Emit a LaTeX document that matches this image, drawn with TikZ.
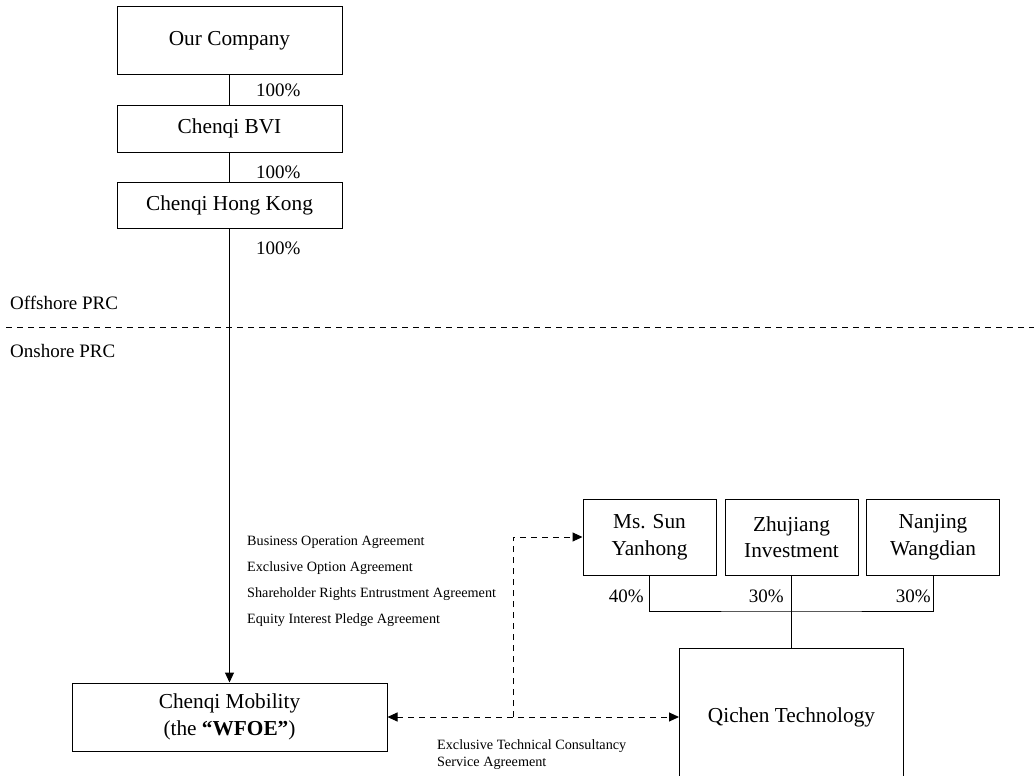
\documentclass[tikz,border=0pt]{standalone}
\usepackage{fontspec}
\setmainfont{Liberation Serif}
\usetikzlibrary{arrows.meta}
\usetikzlibrary{calc}

\tikzset{
  box/.style={draw, line width=1pt, inner sep=0pt, align=center,
    font=\fontsize{21.3}{26.5}\selectfont},
  pct/.style={inner sep=0pt, font=\fontsize{19}{22}\selectfont},
  small/.style={inner sep=0pt, align=left},
  link/.style={line width=1pt},
  dlink/.style={line width=1pt, dash pattern=on 6pt off 5pt},
  tip/.style={-{Triangle[length=10pt,width=9pt]}},
}

\begin{document}
\begin{tikzpicture}[x=1pt,y=-1pt]
   \clip (0,0) rectangle (1034,776);

   % offshore holding chain
   \node[box, minimum width=225, minimum height=68] (company) at (229.5,41) {Our Company};
   \node[box, minimum width=225, minimum height=47] (bvi) at (229.5,128.5) {Chenqi BVI};
   \node[box, minimum width=225, minimum height=46] (hk) at (229.5,205) {Chenqi Hong Kong};
   \node[box, minimum width=315, minimum height=68] (wfoe) at (229.5,717)
      {Chenqi Mobility\\(the \textbf{“WFOE”})};

   \draw[link] (company) -- (bvi);
   \draw[link] (bvi) -- (hk);
   \draw[link,tip] (hk) -- (wfoe);
   \node[pct, anchor=west] (p1) at (256,90) {100\%};
   \node[pct, anchor=west] (p2) at (256,172) {100\%};
   \node[pct, anchor=west] (p3) at (256,248) {100\%};

   % border
   \draw[dlink] (6,327) -- (1034,327);
   \node[pct, anchor=west] (off) at (10,303) {Offshore PRC};
   \node[pct, anchor=west] (on) at (10,351) {Onshore PRC};

   % VIE side
   \node[box, minimum width=133, minimum height=76] (sun) at (649.5,537) {Ms. Sun\\Yanhong};
   \node[box, minimum width=133, minimum height=76] (zhujiang) at (791.5,537) {Zhujiang\\Investment};
   \node[box, minimum width=133, minimum height=76] (nanjing) at (933,537) {Nanjing\\Wangdian};
   \node[box, minimum width=224, minimum height=138] (qichen) at (791.5,717) {Qichen Technology};

   \coordinate (bar) at (791.5,611);
   \draw[link] (sun.south) |- (bar) -| (nanjing.south);
   \draw[link] (zhujiang.south) -- (qichen.north);
   \node[pct, anchor=east] (p40) at (644,596) {40\%};
   \node[pct, anchor=east] (p30a) at (784,596) {30\%};
   \node[pct, anchor=east] (p30b) at (931,596) {30\%};

   % contractual arrangements
   \coordinate (split) at (513,717);
   \draw[dlink,{Triangle[length=10pt,width=9pt]}-{Triangle[length=10pt,width=9pt]}] (wfoe.east) -- (qichen.west);
   \draw[dlink,tip] (split) |- (sun.west);

   \node[small, anchor=west, font=\fontsize{14.2}{26}\selectfont] (agree) at (247,581)
      {Business Operation Agreement\\Exclusive Option Agreement\\
       Shareholder Rights Entrustment Agreement\\Equity Interest Pledge Agreement};
   \node[small, anchor=west, font=\fontsize{14.2}{17}\selectfont] (tech) at (437,754.5)
      {Exclusive Technical Consultancy\\Service Agreement};
\end{tikzpicture}
\end{document}
